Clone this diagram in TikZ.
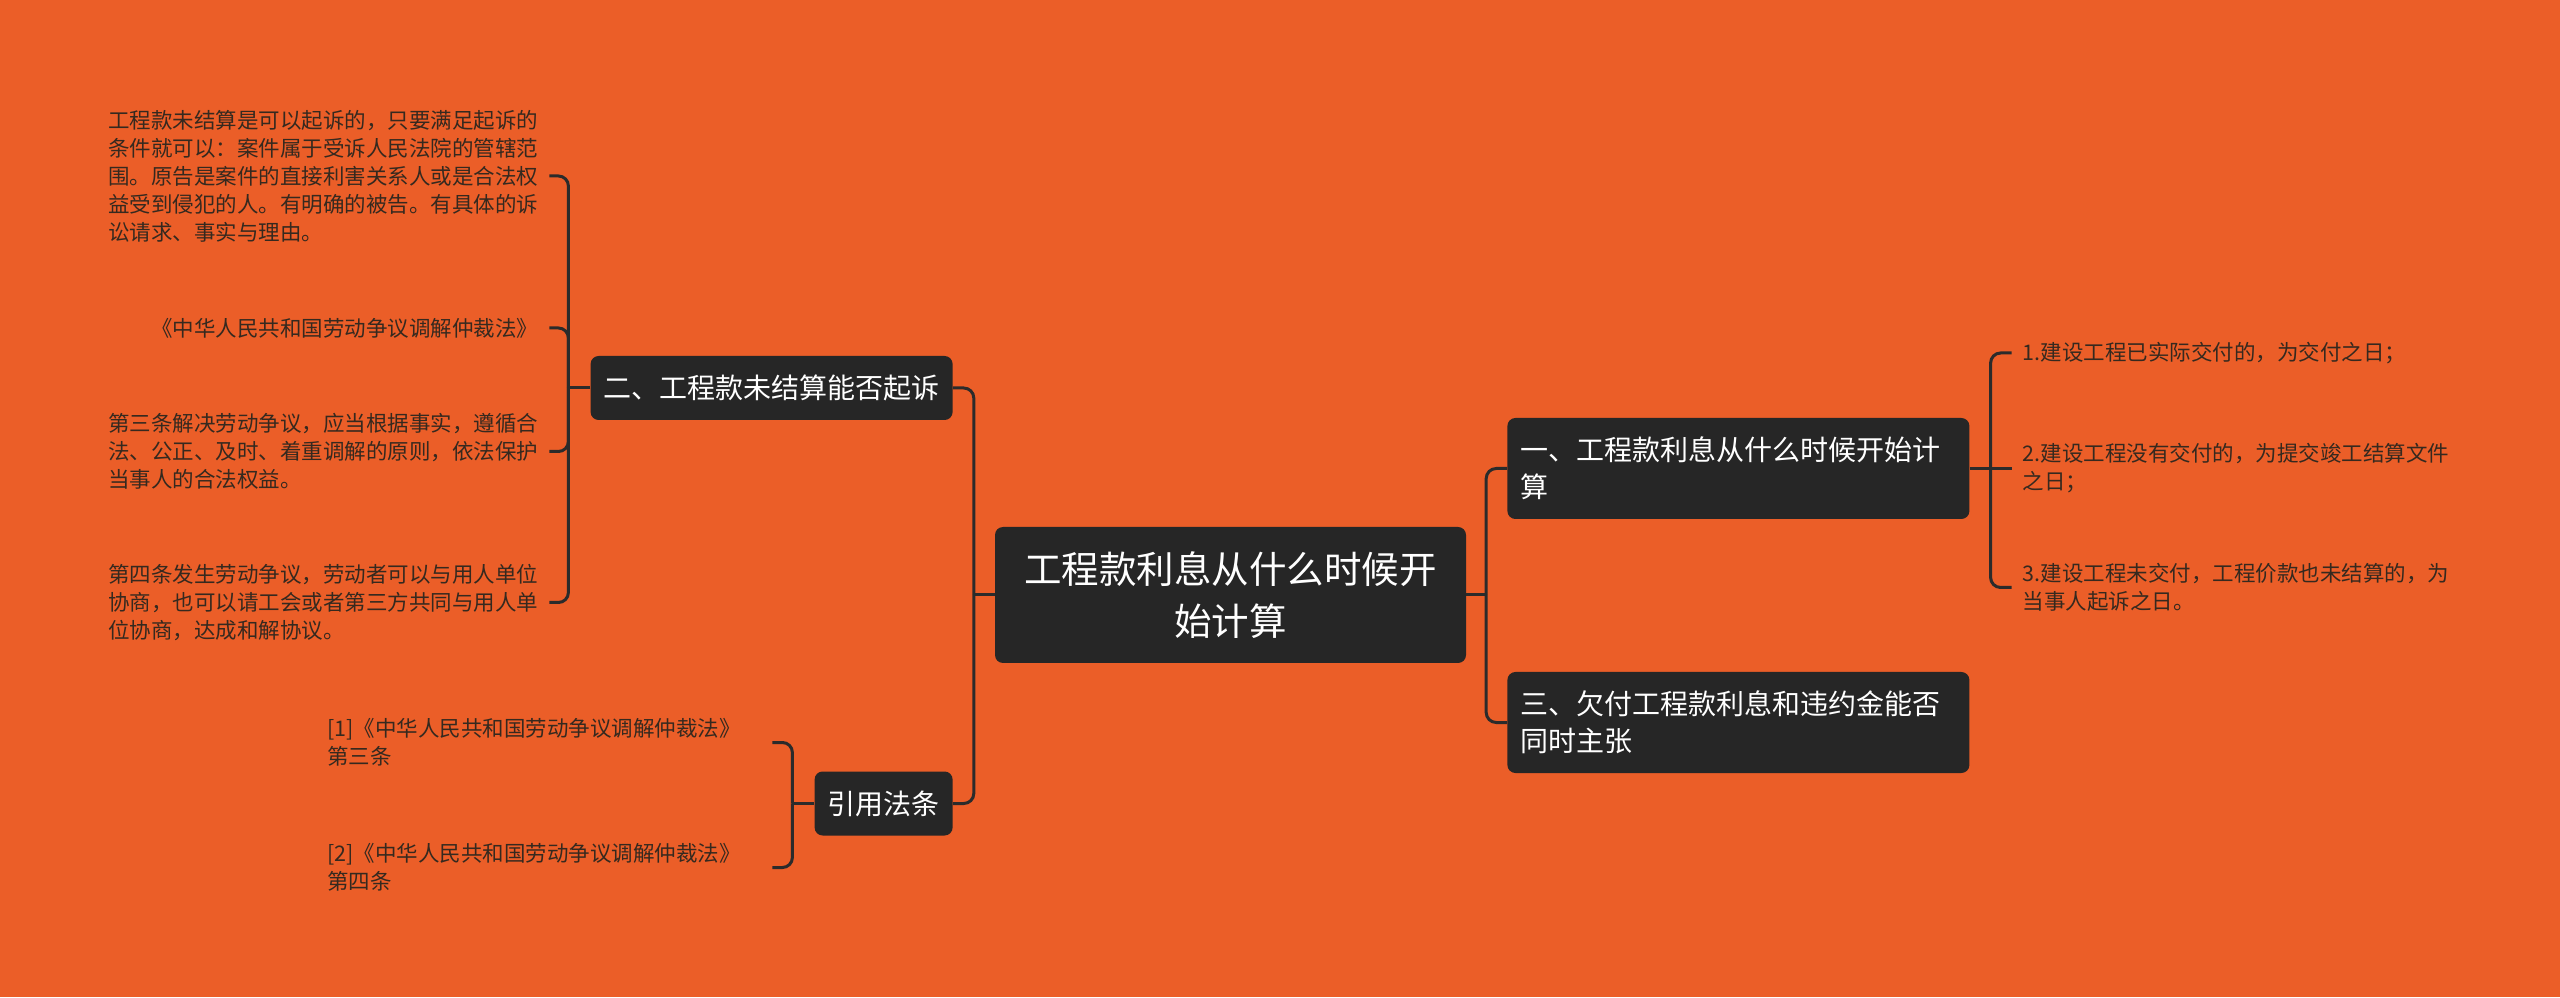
\documentclass[tikz,border=0pt]{standalone}
\usepackage{fontspec}
\setmainfont{Noto Sans CJK SC}
\usepackage{xcolor}
\usetikzlibrary{positioning}

\definecolor{bgorange}{HTML}{EB5E28}
\definecolor{boxdark}{HTML}{262626}
\definecolor{linedark}{HTML}{2B2B2B}
\definecolor{leaftext}{HTML}{35291F}

\begin{document}
\begin{tikzpicture}[
    x=1pt, y=1pt,
    node distance=41pt,
    rootbox/.style={rectangle, rounded corners=8pt, fill=boxdark, text=white, align=center, minimum width=471pt, minimum height=136pt, inner sep=0pt, font=\fontsize{37.5pt}{52pt}\selectfont},
    topic/.style={rectangle, rounded corners=8pt, fill=boxdark, text=white, align=left, inner xsep=13pt, inner ysep=0pt, minimum height=64pt, font=\fontsize{28pt}{37pt}\selectfont},
    leaf/.style={align=left, inner xsep=11pt, inner ysep=4pt, text=leaftext, font=\fontsize{21.5pt}{28pt}\selectfont},
    link/.style={draw=linedark, line width=3pt},
    elbow/.style={link, rounded corners=10pt}
  ]

  \fill[bgorange] (0,0) rectangle (2560,997);

  \node[rootbox] (root) at (1230.5,402) {工程款利息从什么时候开\\始计算};

  \node[topic, text width=436pt, minimum height=101pt, right=of root, yshift=126.5pt] (one) {一、工程款利息从什么时候开始计\\算};
  \node[topic, text width=436pt, minimum height=101pt, right=of root, yshift=-127.5pt] (three) {三、欠付工程款利息和违约金能否\\同时主张};
  \node[topic, left=42pt of root, yshift=207pt] (two) {二、工程款未结算能否起诉};
  \node[topic, left=42pt of root, yshift=-208.5pt] (cite) {引用法条};

  \node[leaf, left=of two, yshift=212pt] (claim) {工程款未结算是可以起诉的，只要满足起诉的\\条件就可以：案件属于受诉人民法院的管辖范\\围。原告是案件的直接利害关系人或是合法权\\益受到侵犯的人。有明确的被告。有具体的诉\\讼请求、事实与理由。};
  \node[leaf, left=of two, yshift=60pt] (lawname) {《中华人民共和国劳动争议调解仲裁法》};
  \node[leaf, left=of two, yshift=-63.5pt] (artthree) {第三条解决劳动争议，应当根据事实，遵循合\\法、公正、及时、着重调解的原则，依法保护\\当事人的合法权益。};
  \node[leaf, left=of two, yshift=-214.5pt] (artfour) {第四条发生劳动争议，劳动者可以与用人单位\\协商，也可以请工会或者第三方共同与用人单\\位协商，达成和解协议。};

  \node[leaf, text width=434pt, left=42pt of cite, yshift=61pt] (refthree) {[1]《中华人民共和国劳动争议调解仲裁法》\\第三条};
  \node[leaf, text width=434pt, left=42pt of cite, yshift=-64pt] (reffour) {[2]《中华人民共和国劳动争议调解仲裁法》\\第四条};

  \node[leaf, right=42pt of one, yshift=115.5pt] (dayone) {1.建设工程已实际交付的，为交付之日；};
  \node[leaf, right=42pt of one] (daytwo) {2.建设工程没有交付的，为提交竣工结算文件\\之日；};
  \node[leaf, right=42pt of one, yshift=-119pt] (daythree) {3.建设工程未交付，工程价款也未结算的，为\\当事人起诉之日。};

  % junctions
  \coordinate (rootR) at ([xshift=20pt]root.east);
  \coordinate (rootL) at ([xshift=-21pt]root.west);
  \coordinate (oneR) at ([xshift=21pt]one.east);
  \coordinate (twoL) at ([xshift=-22pt]two.west);
  \coordinate (citeL) at ([xshift=-22pt]cite.west);

  \draw[link] (root.east) -- (rootR);
  \draw[elbow] (rootR) |- (one.west);
  \draw[elbow] (rootR) |- (three.west);

  \draw[link] (root.west) -- (rootL);
  \draw[elbow] (rootL) |- (two.east);
  \draw[elbow] (rootL) |- (cite.east);

  \draw[link] (one.east) -- (oneR);
  \draw[elbow] (oneR) |- (dayone.west);
  \draw[link] (oneR) -- (daytwo.west);
  \draw[elbow] (oneR) |- (daythree.west);

  \draw[link] (two.west) -- (twoL);
  \draw[elbow] (twoL) |- (claim.east);
  \draw[elbow] (twoL) |- (lawname.east);
  \draw[elbow] (twoL) |- (artthree.east);
  \draw[elbow] (twoL) |- (artfour.east);

  \draw[link] (cite.west) -- (citeL);
  \draw[elbow] (citeL) |- (refthree.east);
  \draw[elbow] (citeL) |- (reffour.east);

\end{tikzpicture}
\end{document}
